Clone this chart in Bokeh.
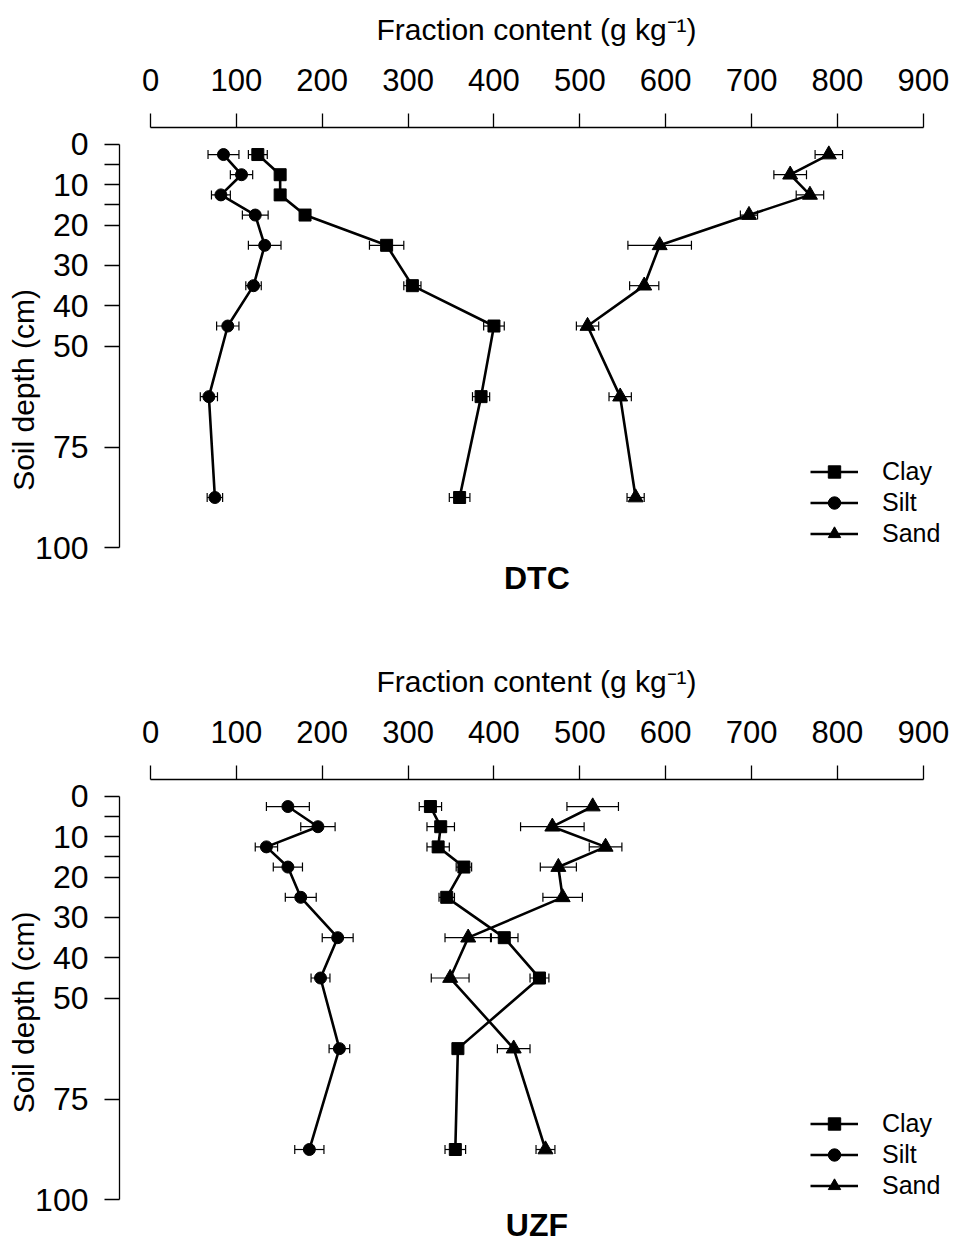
from bokeh.plotting import figure
from bokeh.models import (Range1d, FixedTicker, ColumnDataSource, Whisker, TeeHead,
                          Legend, LegendItem)
from bokeh.layouts import column
from bokeh.embed import file_html
from bokeh.resources import INLINE
from bokeh.core.properties import value

# ---------------- data ----------------
depth = [2.5, 7.5, 12.5, 17.5, 25, 35, 45, 62.5, 87.5]

x_ticks = [0, 100, 200, 300, 400, 500, 600, 700, 800, 900]
y_ticks = [0, 10, 20, 30, 40, 50, 75, 100]
y_minor_ticks = [5, 15]

dtc_clay = [125, 151, 151, 180, 275, 305, 400, 385, 360]
dtc_clay_se = [11, 4, 4, 4, 20, 10, 12, 10, 12]
dtc_silt = [85, 106, 82, 122, 133, 120, 90, 68, 75]
dtc_silt_se = [18, 13, 11, 15, 19, 9, 13, 10, 9]
dtc_sand = [790, 745, 768, 697, 593, 575, 509, 547, 565]
dtc_sand_se = [16, 19, 16, 10, 37, 17, 13, 13, 10]

uzf_clay = [326, 338, 335, 365, 345, 412, 453, 358, 355]
uzf_clay_se = [13, 16, 13, 9, 9, 16, 11, 4, 12]
uzf_silt = [160, 195, 135, 160, 175, 218, 198, 220, 185]
uzf_silt_se = [25, 20, 13, 17, 18, 18, 11, 12, 17]
uzf_sand = [515, 468, 530, 475, 480, 370, 349, 423, 460]
uzf_sand_se = [30, 37, 19, 21, 23, 27, 22, 19, 11]

FONT = "Liberation Sans"


def make_panel(name, series, height, legend_vy, name_y):
    top = 127
    ppu = 4.035
    y_top = -4.2
    y_bottom = y_top + (height - top) / ppu
    p = figure(width=955, height=height, output_backend="svg", toolbar_location=None,
               x_range=Range1d(-36.1, 935.2), y_range=Range1d(y_bottom, y_top),
               x_axis_location="above",
               min_border_left=119, min_border_right=2, min_border_top=top,
               min_border_bottom=0)
    p.outline_line_color = None
    p.grid.visible = False
    p.background_fill_color = "white"
    p.border_fill_color = "white"

    xa = p.xaxis[0]
    xa.ticker = FixedTicker(ticks=x_ticks)
    xa.bounds = (x_ticks[0], x_ticks[-1])
    xa.major_tick_out = 14
    xa.major_tick_in = 0
    xa.minor_tick_out = 0
    xa.minor_tick_in = 0
    xa.axis_line_width = 1.3
    xa.axis_line_color = "black"
    xa.major_tick_line_width = 1.3
    xa.major_tick_line_color = "black"
    xa.major_label_text_font = FONT
    xa.major_label_text_font_size = "31px"
    xa.major_label_text_color = "black"
    xa.major_label_standoff = 23
    xa.axis_label = "Fraction content (g kg\u207b\u00b9)"
    xa.axis_label_text_font = FONT
    xa.axis_label_text_font_style = "normal"
    xa.axis_label_text_font_size = "30px"
    xa.axis_label_text_color = "black"
    xa.axis_label_standoff = 20

    ya = p.yaxis[0]
    ya.ticker = FixedTicker(ticks=y_ticks, minor_ticks=y_minor_ticks)
    ya.bounds = (y_ticks[0], y_ticks[-1])
    ya.major_tick_out = 15
    ya.major_tick_in = 0
    ya.minor_tick_out = 15
    ya.minor_tick_in = 0
    ya.axis_line_width = 1.3
    ya.axis_line_color = "black"
    ya.major_tick_line_width = 1.3
    ya.major_tick_line_color = "black"
    ya.minor_tick_line_width = 1.3
    ya.minor_tick_line_color = "black"
    ya.major_label_text_font = FONT
    ya.major_label_text_font_size = "32px"
    ya.major_label_text_color = "black"
    ya.major_label_standoff = 16
    ya.axis_label = "Soil depth (cm)"
    ya.axis_label_text_font = FONT
    ya.axis_label_text_font_style = "normal"
    ya.axis_label_text_font_size = "30px"
    ya.axis_label_text_color = "black"
    ya.axis_label_standoff = -8

    items = []
    for label, vals, se, marker, msize in series:
        src = ColumnDataSource(dict(x=vals, y=depth,
                                    lo=[v - s for v, s in zip(vals, se)],
                                    hi=[v + s for v, s in zip(vals, se)]))
        lr = p.line("x", "y", source=src, line_color="black", line_width=2.6)
        sr = p.scatter("x", "y", source=src, marker=marker, size=msize,
                       fill_color="black", line_color="black")
        w = Whisker(source=src, base="y", lower="lo", upper="hi", dimension="width",
                    line_color="black", line_width=1.2, level="annotation",
                    upper_head=TeeHead(size=9, line_color="black", line_width=1.2),
                    lower_head=TeeHead(size=9, line_color="black", line_width=1.2))
        p.add_layout(w)
        items.append(LegendItem(label=label, renderers=[lr, sr]))

    legend = Legend(items=items, location=(691, legend_vy),
                    glyph_width=48, glyph_height=31, label_height=31,
                    label_standoff=24, spacing=0, padding=0, margin=0,
                    border_line_color=None, background_fill_alpha=0,
                    label_text_font=FONT, label_text_font_size="25px",
                    label_text_color="black")
    p.add_layout(legend)

    p.text(x=[(x_ticks[0] + x_ticks[-1]) / 2], y=[name_y], text=[name],
           text_font=value(FONT), text_font_style="bold", text_font_size="32px",
           text_align="center", text_baseline="middle", text_color="black")
    return p


p1 = make_panel("DTC", [("Clay", dtc_clay, dtc_clay_se, "square", 12),
                        ("Silt", dtc_silt, dtc_silt_se, "circle", 12),
                        ("Sand", dtc_sand, dtc_sand_se, "triangle", 15)],
                652, 102.8, 107.5)
p2 = make_panel("UZF", [("Clay", uzf_clay, uzf_clay_se, "square", 12),
                        ("Silt", uzf_silt, uzf_silt_se, "circle", 12),
                        ("Sand", uzf_sand, uzf_sand_se, "triangle", 15)],
                593, 44.5, 106.2)

layout = column(p1, p2, spacing=0)
open("out.html", "w").write(file_html(layout, INLINE))
